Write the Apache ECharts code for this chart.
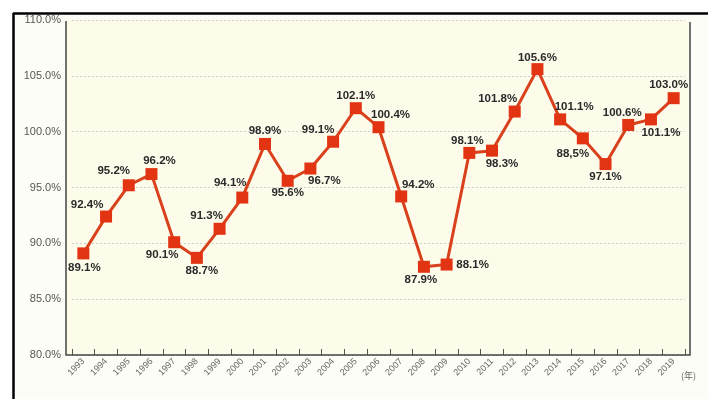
<!DOCTYPE html>
<html><head><meta charset="utf-8">
<script src="https://cdn.jsdelivr.net/npm/echarts@6/dist/echarts.min.js"></script>
<style>html,body{margin:0;padding:0;background:#fff}#c{width:708px;height:399px}</style>
</head><body><div id="c"></div>
<script>
const years = ['1993','1994','1995','1996','1997','1998','1999','2000','2001','2002','2003','2004','2005','2006','2007','2008','2009','2010','2011','2012','2013','2014','2015','2016','2017','2018','2019'];
const values = [89.1,92.4,95.2,96.2,90.1,88.7,91.3,94.1,98.9,95.6,96.7,99.1,102.1,100.4,94.2,87.9,88.1,98.1,98.3,101.8,105.6,101.1,99.4,97.1,100.6,101.1,103.0];
const labelTexts = ['89.1%','92.4%','95.2%','96.2%','90.1%','88.7%','91.3%','94.1%','98.9%','95.6%','96.7%','99.1%','102.1%','100.4%','94.2%','87.9%','88.1%','98.1%','98.3%','101.8%','105.6%','101.1%','88,5%','97.1%','100.6%','101.1%','103.0%'];
const yTicks = [80,85,90,95,100,105,110];

// label offsets (layout only)
const labelOffsets = [[1,14],[-19,-12],[-15,-14],[8,-13],[-12,13],[5,13],[-13,-13],[-12,-15],[0,-13],[0,12],[14,12],[-15,-12],[0,-12],[12,-12],[17,-12],[-3,13],[26,0],[-2,-12],[10,13],[-17,-13],[0,-11],[14,-13],[-10,15],[0,13],[-6,-12],[10,13],[-5,-13]];

const chart = echarts.init(document.getElementById('c'));
const data = values.map((v,i)=>({value:v, label:{formatter:labelTexts[i], offset:labelOffsets[i]}}));
chart.setOption({
  animation:false,
  backgroundColor:'#ffffff',
  grid:{left:72,right:23,top:20,bottom:44},
  graphic:[
    {type:'rect',shape:{x:14,y:14,width:694,height:385},style:{fill:'#fdfdf8'},z:-10},
    {type:'rect',shape:{x:66,y:20,width:624,height:335},style:{fill:'#fdfbea'},z:-9},
    {type:'line',shape:{x1:13,y1:13.5,x2:708,y2:13.5},style:{stroke:'#000',lineWidth:2.5},z:20},
    {type:'line',shape:{x1:13.5,y1:13,x2:13.5,y2:399},style:{stroke:'#000',lineWidth:2.5},z:20},
    {type:'polyline',shape:{points:[[66,21],[66,355],[690,355],[690,22]]},style:{stroke:'#444',lineWidth:1.5,fill:null},z:20},
    {type:'text',x:681,y:371,style:{text:'(年)',fontSize:9,fill:'#666',fontFamily:'Noto Sans CJK SC'},z:20}
  ],
  xAxis:{type:'category',data:years,boundaryGap:true,
    axisLine:{show:false},
    axisTick:{show:true,inside:true,length:6,lineStyle:{color:'#555'}},
    axisLabel:{rotate:45,fontSize:9,color:'#666',margin:5,fontFamily:'Liberation Sans',interval:0}},
  yAxis:{type:'value',min:80,max:110,interval:5,
    axisLine:{show:false},axisTick:{show:false},
    axisLabel:{formatter:v=>v.toFixed(1)+'%',fontSize:11,color:'#555',margin:11,fontFamily:'Liberation Sans'},
    splitLine:{show:true,lineStyle:{color:'#cfcfcf',type:[2,2],width:1}}},
  series:[{type:'line',data:data,symbol:'rect',symbolSize:12,
    lineStyle:{color:'#d9401c',width:3},
    itemStyle:{color:'#e23412'},
    label:{show:true,position:'inside',fontSize:11.5,fontWeight:'bold',color:'#2a2a2a',fontFamily:'Liberation Sans'},
    z:5}]
});
</script></body></html>
